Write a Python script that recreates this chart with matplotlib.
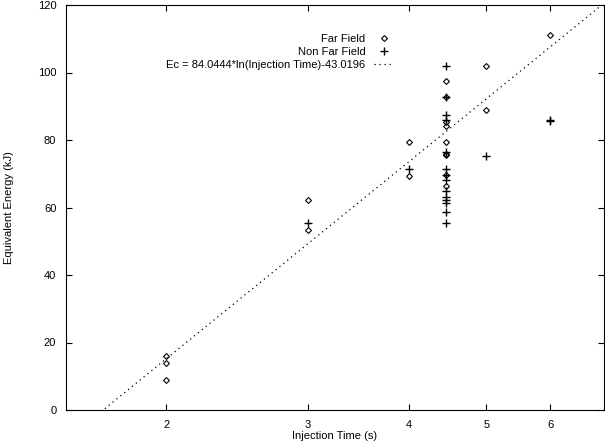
import numpy as np
import matplotlib
matplotlib.use('Agg')
import matplotlib.pyplot as plt
from matplotlib.ticker import FixedLocator, NullLocator, FixedFormatter

plt.rcParams['font.family'] = ['Liberation Sans', 'DejaVu Sans']

# data
far_x = [2, 2, 2, 3, 3, 4, 4,
         4.45, 4.45, 4.45, 4.45, 4.45, 4.45, 4.45, 4.45, 4.45,
         5, 5, 6]
far_y = [16.0, 13.8, 8.8, 62.1, 53.3, 79.4, 69.3,
         97.6, 92.7, 85.4, 84.1, 79.4, 76.0, 75.5, 69.6, 66.4,
         102.0, 88.8, 111.0]

nonfar_x = [3, 4,
            4.45, 4.45, 4.45, 4.45, 4.45, 4.45, 4.45, 4.45, 4.45, 4.45, 4.45, 4.45, 4.45, 4.45,
            5, 6, 6]
nonfar_y = [55.3, 71.4,
            102.0, 92.7, 87.4, 86.0, 76.5, 71.4, 69.6, 68.1, 64.9, 63.2, 62.2, 61.2, 58.6, 55.5,
            75.3, 85.5, 85.8]

fit_a = 84.0444
fit_b = -43.0196

xticks = [2, 3, 4, 5, 6]
yticks = [0, 20, 40, 60, 80, 100, 120]

fig = plt.figure(figsize=(6.05, 4.43), dpi=100)
ax = fig.add_axes([66/605, 1-410/443, 538/605, 405/443])

ax.plot(far_x, far_y, linestyle='none', marker='D', markersize=3.0,
        markerfacecolor='none', markeredgecolor='k', markeredgewidth=0.8,
        label='Far Field')
ax.plot(nonfar_x, nonfar_y, linestyle='none', marker='+', markersize=5.5,
        color='k', markeredgewidth=1.0, label='Non Far Field')

xx = np.linspace(1.5, 7, 300)
ax.plot(xx, fit_a*np.log(xx) + fit_b, color='k', linewidth=0.9,
        linestyle=(0, (1, 3)),
        label='Ec = 84.0444*ln(Injection Time)-43.0196')

ax.set_xscale('log')
ax.set_xlim(1.5, 7)
ax.set_ylim(0, 120)
ax.xaxis.set_major_locator(FixedLocator(xticks))
ax.xaxis.set_major_formatter(FixedFormatter([str(t) for t in xticks]))
ax.xaxis.set_minor_locator(NullLocator())
ax.set_yticks(yticks)

ax.tick_params(direction='in', top=True, right=True, length=4.5, width=0.8,
               labelsize=8, pad=7)
for s in ax.spines.values():
    s.set_linewidth(0.8)

ax.set_xlabel('Injection Time (s)', fontsize=8, labelpad=1)
ax.set_ylabel('Equivalent Energy (kJ)', fontsize=8, labelpad=17)

ax.legend(loc='upper right', bbox_to_anchor=(0.61, 0.928), frameon=False,
          markerfirst=False, fontsize=8, handlelength=1.8, handletextpad=0.8,
          labelspacing=0.25, borderpad=0, borderaxespad=0)

fig.savefig('out.png', dpi=100)
